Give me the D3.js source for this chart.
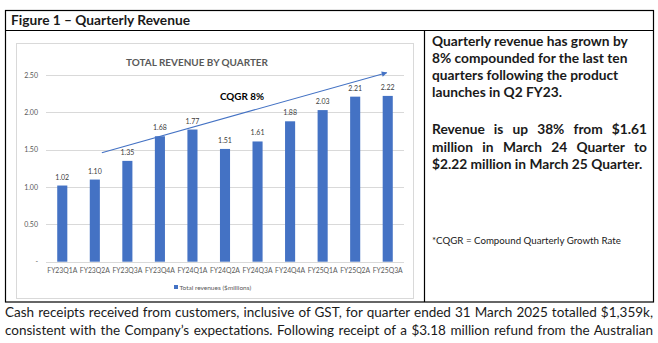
<!DOCTYPE html>
<html><head><meta charset="utf-8">
<script src="https://cdn.jsdelivr.net/npm/d3@7"></script>
<style>
html,body{margin:0;padding:0;background:#fff;}
svg{display:block;font-family:Lato,"Open Sans",sans-serif;}
</style></head>
<body>
<svg id="c" width="658" height="343"></svg>
<script>
const categories = ["FY23Q1A","FY23Q2A","FY23Q3A","FY23Q4A","FY24Q1A","FY24Q2A","FY24Q3A","FY24Q4A","FY25Q1A","FY25Q2A","FY25Q3A"];
const revenue = [1.02,1.10,1.35,1.68,1.77,1.51,1.61,1.88,2.03,2.21,2.22];
const yTicks = [0,0.5,1.0,1.5,2.0,2.5];
const trendStart = {cat:"FY23Q2A", value:1.46};
const trendEnd = {cat:"FY25Q3A", value:2.53};
const seriesName = "Total revenues ($millions)";
const chartTitle = "TOTAL REVENUE BY QUARTER";
const figureTitle = "Figure 1 \u2013 Quarterly Revenue";
const para1 = ["Quarterly revenue has grown by","8% compounded for the last ten","quarters following the product","launches in Q2 FY23."];
const para2 = ["Revenue is up 38% from $1.61","million in March 24 Quarter to","$2.22 million in March 25 Quarter."];
const footnote = "*CQGR = Compound Quarterly Growth Rate";
const bottomText = ["Cash receipts received from customers, inclusive of GST, for quarter ended 31 March 2025 totalled $1,359k,","consistent with the Company\u2019s expectations. Following receipt of a $3.18 million refund from the Australian"];

const svg = d3.select("#c");

function fitWidth(sel, target){
  const fs = parseFloat(sel.attr("font-size"));
  const w = sel.node().getComputedTextLength();
  sel.attr("font-size", fs*target/w);
}
function justify(sel, target){
  const t = sel.text();
  const n = (t.match(/ /g)||[]).length;
  const w = sel.node().getComputedTextLength();
  if(n>0) sel.attr("word-spacing", (target-w)/n);
}

// outer table frame
svg.append("rect").attr("x",5.5).attr("y",10.5).attr("width",648).attr("height",291.5)
  .attr("fill","none").attr("stroke","#000").attr("stroke-width",1.2);
svg.append("line").attr("x1",5.5).attr("x2",653.5).attr("y1",30.5).attr("y2",30.5).attr("stroke","#000").attr("stroke-width",1.2);
svg.append("line").attr("x1",424.5).attr("x2",424.5).attr("y1",30.5).attr("y2",302).attr("stroke","#000").attr("stroke-width",1.2);

const ft = svg.append("text").attr("x",11).attr("y",25).attr("font-size",13.5).attr("font-weight","bold")
  .attr("fill","#1a1a1a").text(figureTitle);
fitWidth(ft, 179);

// chart frame
svg.append("rect").attr("x",16.5).attr("y",43.5).attr("width",397).attr("height",255)
  .attr("fill","#fff").attr("stroke","#d9d9d9").attr("stroke-width",1);

const x = d3.scaleBand().domain(categories).range([46,404]).paddingInner(0.69).paddingOuter(0.345);
const y = d3.scaleLinear().domain([0,2.5]).range([261.7,75]);

// grid
svg.append("g").selectAll("line").data(yTicks).join("line")
  .attr("x1",46).attr("x2",404).attr("y1",d=>Math.round(y(d))+0.5).attr("y2",d=>Math.round(y(d))+0.5)
  .attr("stroke","#d9d9d9").attr("stroke-width",1);

// y axis labels
const yAxis = d3.axisLeft(y).tickValues(yTicks).tickSize(0).tickPadding(0)
  .tickFormat(d=> d===0 ? "-" : d3.format(".2f")(d));
const ga = svg.append("g").attr("transform","translate(38,0)").call(yAxis);
ga.select(".domain").remove();
ga.selectAll("text").attr("font-size",7).attr("fill","#595959").attr("font-family","Lato,sans-serif");

// bars
svg.append("g").selectAll("rect").data(revenue).join("rect")
  .attr("x",(d,i)=>x(categories[i])).attr("width",x.bandwidth())
  .attr("y",d=>y(d)).attr("height",d=>y(0)-y(d)).attr("fill","#4472C4");

// value labels
svg.append("g").selectAll("text").data(revenue).join("text")
  .attr("x",(d,i)=>x(categories[i])+x.bandwidth()/2).attr("y",d=>y(d)-6)
  .attr("text-anchor","middle").attr("font-size",7).attr("fill","#404040")
  .text(d=>d3.format(".2f")(d));

// x axis labels
const xAxis = d3.axisBottom(x).tickSize(0).tickPadding(0);
const gx = svg.append("g").attr("transform","translate(0,268)").call(xAxis);
gx.select(".domain").remove();
gx.selectAll("text").attr("font-size",6.8).attr("fill","#595959").attr("font-family","Lato,sans-serif");

// title
const ct = svg.append("text").attr("x",197).attr("y",65.5).attr("text-anchor","middle")
  .attr("font-size",9.2).attr("font-weight","bold").attr("fill","#595959").text(chartTitle);
fitWidth(ct, 142);

// trend arrow
const defs = svg.append("defs");
defs.append("marker").attr("id","ah").attr("viewBox","0 0 10 10").attr("refX",9).attr("refY",5)
  .attr("markerWidth",6).attr("markerHeight",5).attr("orient","auto")
  .append("path").attr("d","M0,0L10,5L0,10z").attr("fill","#4472C4");
svg.append("line")
  .attr("x1",x(trendStart.cat)+x.bandwidth()/2+7).attr("y1",y(trendStart.value))
  .attr("x2",x(trendEnd.cat)+x.bandwidth()/2-1).attr("y2",y(trendEnd.value))
  .attr("stroke","#4472C4").attr("stroke-width",1.1).attr("marker-end","url(#ah)");

const cq = svg.append("text").attr("x",220).attr("y",100).attr("font-size",11).attr("font-weight","bold")
  .attr("fill","#000").text("CQGR 8%");
fitWidth(cq, 44);

// legend
svg.append("rect").attr("x",174).attr("y",285).attr("width",4).attr("height",4).attr("fill","#4472C4");
svg.append("text").attr("x",179.5).attr("y",289.5).attr("font-size",6.5).attr("fill","#595959").text(seriesName);

// right text
const rt = svg.append("g").attr("font-weight","bold").attr("fill","#1a1a1a");
const l0 = rt.append("text").attr("x",432).attr("y",46).attr("font-size",13).text(para1[0]);
fitWidth(l0, 196);
const rfs = parseFloat(l0.attr("font-size"));
para1.slice(1).forEach((t,i)=>{
  rt.append("text").attr("x",432).attr("y",46+(i+1)*17).attr("font-size",rfs).text(t);
});
para2.forEach((t,i)=>{
  const tx = rt.append("text").attr("x",432).attr("y",134+i*17.5).attr("font-size",rfs).text(t);
  if(i<para2.length-1) justify(tx, 215);
});
const fn = svg.append("text").attr("x",432).attr("y",244).attr("font-size",8.5).attr("fill","#1a1a1a").text(footnote);
fitWidth(fn, 189);

// bottom paragraph
bottomText.forEach((t,i)=>{
  const bt = svg.append("text").attr("x",5).attr("y",317+i*18).attr("font-size",13.5).attr("fill","#1a1a1a").text(t);
  justify(bt, 648);
});
</script>
</body></html>
